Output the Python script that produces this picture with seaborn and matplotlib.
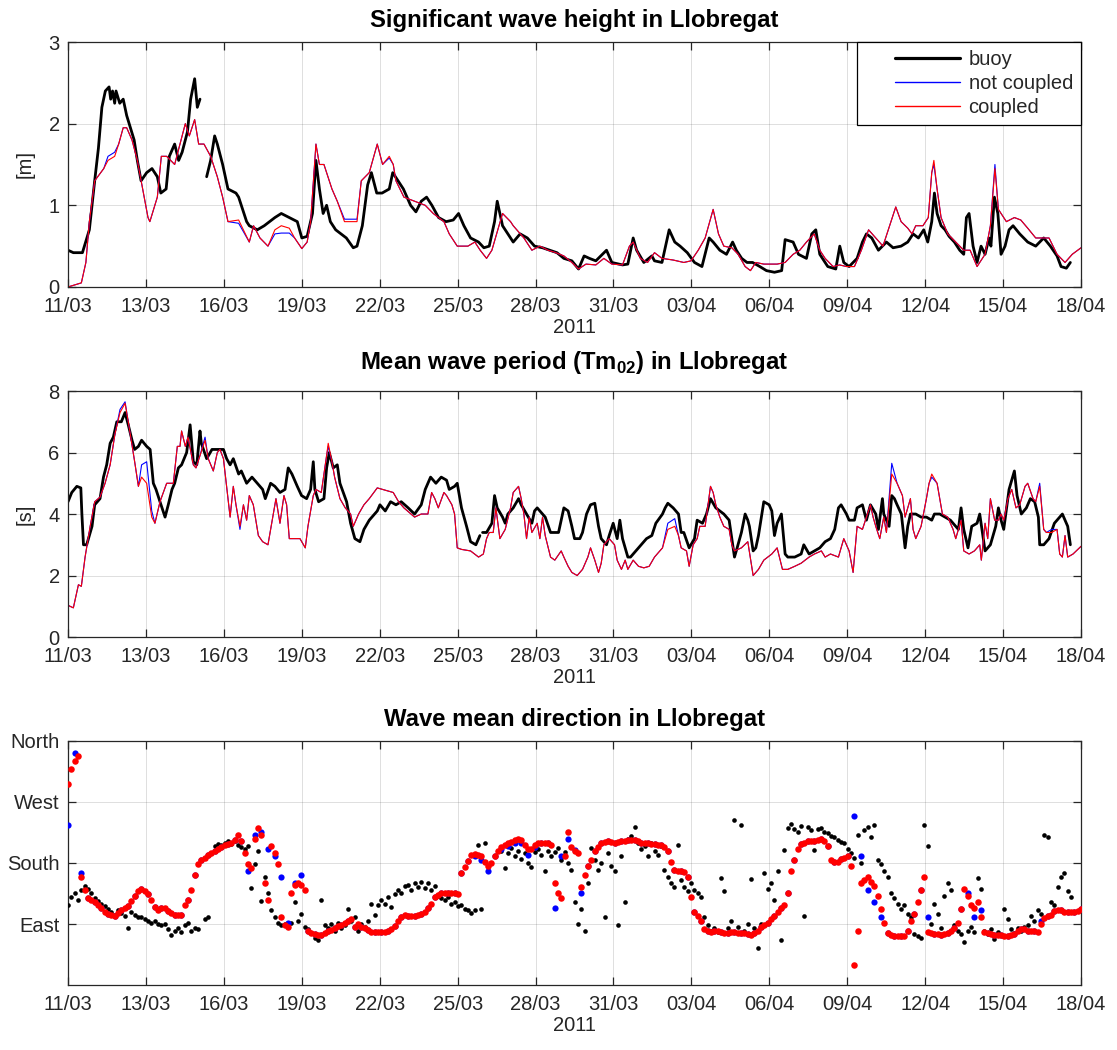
import numpy as np
import pandas as pd
import matplotlib
matplotlib.use("Agg")
import matplotlib.pyplot as plt
import seaborn as sns
from matplotlib.lines import Line2D
from matplotlib.legend_handler import HandlerLine2D

nan = np.nan

# ---------------- data (time in days since 11/03/2011 00:00) ----------------
date_labels = ['11/03', '13/03', '16/03', '19/03', '22/03', '25/03', '28/03',
               '31/03', '03/04', '06/04', '09/04', '12/04', '15/04', '18/04']
period_days = 38.0

# Panel 1: significant wave height [m]
hs_buoy = [(0,0.45),(0.2,0.42),(0.54,0.42),(0.8,0.7),(1.0,1.3),(1.14,1.7),(1.27,2.2),(1.4,2.4),(1.54,2.45),(1.6,2.3),
           (1.67,2.4),(1.75,2.25),(1.8,2.4),(1.94,2.25),(2.07,2.3),(2.2,2.1),(2.34,1.95),(2.48,1.8),(2.6,1.55),(2.74,1.3),
           (2.95,1.4),(3.15,1.45),(3.35,1.35),(3.48,1.15),(3.68,1.2),(3.8,1.6),(4.0,1.75),(4.15,1.55),(4.28,1.65),(4.48,1.9),
           (4.6,2.3),(4.75,2.55),(4.85,2.2),(4.95,2.3),(5.05,nan),(5.2,1.35),(5.35,1.55),(5.5,1.85),(5.6,1.75),(5.8,1.5),
           (6.0,1.2),(6.3,1.15),(6.4,1.1),(6.7,0.8),(6.8,0.75),(7.1,0.7),(7.36,0.75),(7.76,0.85),(8.0,0.9),(8.3,0.85),
           (8.6,0.8),(8.77,0.6),(8.97,0.62),(9.17,0.9),(9.3,1.55),(9.43,1.2),(9.57,0.9),(9.7,1.0),(9.84,0.8),(10.04,0.7),
           (10.44,0.6),(10.7,0.48),(10.84,0.5),(11.04,0.75),(11.24,1.25),(11.38,1.4),(11.58,1.15),(11.78,1.15),(12.05,1.2),(12.18,1.4),
           (12.38,1.3),(12.58,1.2),(12.85,1.0),(13.05,0.92),(13.25,1.05),(13.45,1.1),(13.65,1.0),(13.9,0.85),(14.18,0.8),(14.45,0.82),
           (14.65,0.9),(14.85,0.75),(15.1,0.6),(15.4,0.55),(15.6,0.48),(15.8,0.5),(16.0,0.8),(16.1,1.05),(16.3,0.75),(16.5,0.65),
           (16.7,0.55),(16.96,0.65),(17.23,0.6),(17.5,0.5),(17.8,0.48),(18.07,0.45),(18.34,0.42),(18.6,0.35),(18.9,0.32),(19.15,0.22),
           (19.36,0.38),(19.56,0.35),(19.8,0.32),(20.2,0.45),(20.4,0.3),(20.8,0.27),(21.0,0.28),(21.2,0.6),(21.33,0.45),(21.6,0.3),
           (21.9,0.38),(22.0,0.32),(22.28,0.3),(22.55,0.7),(22.76,0.55),(22.96,0.5),(23.23,0.42),(23.5,0.3),(23.78,0.25),(24.05,0.6),
           (24.2,0.55),(24.45,0.45),(24.7,0.4),(24.93,0.55),(25.07,0.45),(25.27,0.35),(25.47,0.3),(25.68,0.3),(25.95,0.25),(26.2,0.2),
           (26.5,0.18),(26.77,0.2),(26.9,0.58),(27.2,0.55),(27.4,0.4),(27.7,0.35),(27.9,0.65),(28.05,0.7),(28.2,0.4),(28.5,0.25),
           (28.8,0.22),(28.95,0.5),(29.1,0.3),(29.3,0.25),(29.6,0.35),(29.8,0.55),(29.95,0.65),(30.15,0.6),(30.4,0.45),(30.7,0.55),
           (30.95,0.48),(31.25,0.5),(31.5,0.55),(31.7,0.65),(31.9,0.6),(32.1,0.7),(32.25,0.55),(32.4,0.8),(32.5,1.15),(32.6,0.9),
           (32.75,0.75),(32.9,0.7),(33.05,0.62),(33.25,0.55),(33.45,0.45),(33.6,0.4),(33.7,0.85),(33.8,0.9),(33.95,0.5),(34.1,0.3),
           (34.25,0.5),(34.4,0.4),(34.55,0.6),(34.62,0.5),(34.75,1.1),(34.88,0.9),(35.0,0.4),(35.15,0.5),(35.3,0.7),(35.45,0.75),
           (35.7,0.65),(36.0,0.55),(36.3,0.5),(36.6,0.6),(36.85,0.5),(37.1,0.38),(37.25,0.25),(37.45,0.23),(37.6,0.3)]

hs_model_t = [0,0.5,0.67,0.8,1.0,1.34,1.5,1.75,1.9,2.07,
              2.2,2.4,2.6,2.8,3.0,3.07,3.35,3.5,3.7,4.0,
              4.2,4.4,4.55,4.75,4.9,5.1,5.35,5.6,5.8,6.0,
              6.4,6.8,6.96,7.2,7.5,7.76,8.0,8.3,8.5,8.77,
              8.97,9.1,9.3,9.43,9.6,9.9,10.1,10.37,10.84,11.0,
              11.3,11.6,11.8,12.05,12.2,12.3,12.6,13.0,13.4,13.7,
              14.1,14.3,14.6,15.0,15.26,15.46,15.7,15.9,16.3,16.6,
              16.7,17.1,17.4,17.7,18.0,18.3,18.6,18.9,19.15,19.43,
              19.8,20.1,20.4,20.8,21.06,21.2,21.47,21.74,22.0,22.28,
              22.7,23.1,23.37,23.64,23.9,24.2,24.4,24.6,24.9,25.14,
              25.4,25.6,25.8,26.1,26.6,26.9,27.2,27.45,27.7,27.99,
              28.2,28.4,28.7,28.94,29.2,29.5,29.76,30.03,30.3,30.57,
              30.85,31.05,31.25,31.5,31.66,31.8,32.07,32.27,32.4,32.48,
              32.6,32.75,33.0,33.3,33.6,33.84,34.1,34.4,34.6,34.77,
              34.9,35.2,35.5,35.74,36.0,36.3,36.6,36.8,37.1,37.4,
              37.67,38.0]
hs_coupled = [0.0,0.05,0.3,0.8,1.3,1.45,1.55,1.6,1.75,1.95,
              1.95,1.8,1.55,1.2,0.85,0.8,1.1,1.6,1.6,1.5,
              1.75,2.0,1.85,2.05,1.75,1.75,1.6,1.35,1.1,0.8,
              0.82,0.55,0.75,0.6,0.5,0.7,0.75,0.72,0.6,0.47,
              0.55,0.8,1.75,1.5,1.5,1.2,1.05,0.8,0.8,1.3,
              1.4,1.75,1.5,1.6,1.5,1.3,1.1,1.05,1.0,0.9,
              0.8,0.65,0.5,0.5,0.55,0.45,0.35,0.45,0.9,0.8,
              0.75,0.6,0.45,0.5,0.45,0.42,0.38,0.3,0.22,0.28,
              0.27,0.35,0.28,0.27,0.5,0.55,0.35,0.3,0.42,0.35,
              0.33,0.3,0.32,0.45,0.6,0.95,0.65,0.5,0.48,0.4,
              0.25,0.2,0.3,0.28,0.28,0.3,0.4,0.45,0.55,0.65,
              0.45,0.35,0.25,0.27,0.25,0.25,0.45,0.7,0.6,0.5,
              0.78,0.98,0.8,0.72,0.65,0.75,0.75,0.85,1.4,1.55,
              1.2,0.85,0.65,0.55,0.45,0.45,0.25,0.4,0.75,1.45,
              0.95,0.8,0.85,0.82,0.72,0.6,0.6,0.6,0.4,0.3,
              0.4,0.48]
hs_notcoupled = [0.0,0.05,0.3,0.8,1.3,1.45,1.6,1.65,1.75,1.95,
                 1.95,1.8,1.55,1.2,0.85,0.8,1.1,1.6,1.6,1.5,
                 1.75,2.0,1.85,2.05,1.75,1.75,1.6,1.35,1.1,0.8,
                 0.78,0.55,0.75,0.6,0.5,0.65,0.66,0.66,0.6,0.47,
                 0.55,0.8,1.75,1.5,1.5,1.2,1.05,0.83,0.83,1.3,
                 1.4,1.75,1.5,1.58,1.5,1.3,1.1,1.05,1.0,0.9,
                 0.8,0.65,0.5,0.5,0.55,0.45,0.35,0.45,0.9,0.8,
                 0.75,0.6,0.45,0.5,0.45,0.42,0.38,0.3,0.22,0.28,
                 0.27,0.35,0.28,0.27,0.5,0.55,0.35,0.3,0.42,0.35,
                 0.33,0.3,0.32,0.45,0.6,0.95,0.65,0.5,0.48,0.4,
                 0.25,0.2,0.3,0.28,0.28,0.3,0.4,0.45,0.55,0.65,
                 0.45,0.35,0.25,0.27,0.25,0.25,0.45,0.7,0.6,0.5,
                 0.78,0.98,0.8,0.72,0.65,0.75,0.75,0.85,1.4,1.5,
                 1.2,0.85,0.65,0.55,0.45,0.45,0.25,0.4,0.75,1.5,
                 0.95,0.8,0.85,0.82,0.72,0.6,0.6,0.6,0.4,0.3,
                 0.4,0.48]

# Panel 2: mean wave period Tm02 [s]
tm_buoy = [(0,4.4),(0.14,4.7),(0.33,4.9),(0.48,4.85),(0.52,4.0),(0.58,3.0),(0.7,3.0),(0.9,3.6),(1.0,4.3),(1.2,4.5),
           (1.33,5.2),(1.45,5.6),(1.58,6.3),(1.7,6.5),(1.83,7.0),(2.0,7.0),(2.14,7.3),(2.26,6.9),(2.4,6.4),(2.5,6.1),
           (2.64,6.2),(2.76,6.4),(2.95,6.2),(3.08,6.1),(3.2,5.0),(3.3,4.8),(3.45,4.4),(3.64,3.9),(3.76,4.3),(3.9,4.8),
           (4.0,5.0),(4.14,5.5),(4.26,5.6),(4.45,6.0),(4.58,6.9),(4.7,5.7),(4.83,5.6),(4.95,6.7),(5.0,6.3),(5.2,5.8),
           (5.4,6.1),(5.6,6.1),(5.83,6.1),(5.95,5.8),(6.08,5.6),(6.2,5.8),(6.4,5.3),(6.5,5.4),(6.7,5.0),(6.9,5.2),
           (7.1,5.0),(7.3,4.8),(7.4,4.5),(7.6,5.0),(7.76,4.9),(7.95,4.7),(8.14,4.8),(8.26,5.5),(8.4,5.3),(8.6,4.9),
           (8.76,4.6),(8.95,4.5),(9.1,4.8),(9.2,5.7),(9.26,4.8),(9.4,4.4),(9.6,4.5),(9.7,5.5),(9.8,6.0),(9.95,5.5),
           (10.1,5.6),(10.2,5.0),(10.45,4.4),(10.6,3.7),(10.76,3.2),(10.95,3.1),(11.1,3.5),(11.3,3.8),(11.6,4.1),(11.7,4.3),
           (11.9,4.1),(12.1,4.4),(12.3,4.3),(12.5,4.4),(12.76,4.2),(13.0,4.0),(13.25,4.3),(13.4,4.8),(13.6,5.2),(13.8,5.0),
           (14.0,5.2),(14.2,5.1),(14.3,4.8),(14.5,4.9),(14.6,5.0),(14.76,4.2),(14.95,3.6),(15.1,3.1),(15.3,3.0),(15.45,3.3),
           (15.5,nan),(15.55,3.4),(15.7,3.4),(15.9,3.7),(16.0,4.6),(16.1,4.2),(16.3,3.9),(16.4,3.7),(16.5,4.0),(16.7,4.2),
           (16.9,4.5),(17.0,4.3),(17.2,4.0),(17.4,3.7),(17.5,4.1),(17.6,4.2),(17.8,4.0),(17.9,3.9),(18.1,3.4),(18.4,3.4),
           (18.6,4.2),(18.76,4.1),(18.9,3.6),(19.0,3.2),(19.2,3.2),(19.3,3.4),(19.45,4.0),(19.6,4.3),(19.76,4.35),(19.9,3.6),
           (20.0,3.2),(20.2,3.0),(20.3,3.3),(20.45,3.7),(20.6,3.2),(20.7,3.8),(20.8,3.2),(21.0,2.6),(21.1,2.6),(21.3,2.8),
           (21.5,3.0),(21.7,3.2),(21.9,3.3),(22.05,3.7),(22.3,4.0),(22.4,4.2),(22.5,4.35),(22.7,4.2),(22.9,4.0),(23.0,3.4),
           (23.1,3.4),(23.3,2.9),(23.5,3.2),(23.6,3.8),(23.8,3.7),(23.95,4.0),(24.1,4.5),(24.3,4.2),(24.45,4.1),(24.6,4.0),
           (24.8,3.8),(25.0,2.6),(25.1,2.9),(25.26,3.4),(25.4,4.0),(25.5,3.8),(25.56,3.6),(25.7,2.8),(25.8,2.9),(25.9,3.3),
           (26.1,4.4),(26.3,4.3),(26.4,4.1),(26.5,3.3),(26.6,3.7),(26.76,4.0),(26.9,2.7),(27.0,2.6),(27.26,2.6),(27.5,2.7),
           (27.6,3.0),(27.8,2.7),(28.0,2.8),(28.2,2.9),(28.4,3.1),(28.6,3.2),(28.76,3.5),(28.9,4.2),(29.0,4.3),(29.2,4.0),
           (29.3,3.8),(29.5,3.8),(29.6,4.2),(29.8,4.3),(29.95,3.8),(30.1,4.3),(30.3,4.0),(30.4,3.5),(30.55,4.5),(30.6,4.0),
           (30.8,3.6),(30.9,4.6),(31.0,4.5),(31.1,4.3),(31.26,4.0),(31.4,2.9),(31.5,3.6),(31.6,4.0),(31.8,4.0),(32.0,3.9),
           (32.2,3.9),(32.4,3.8),(32.5,4.0),(32.7,4.0),(32.9,3.9),(33.1,3.8),(33.3,3.6),(33.4,3.5),(33.5,4.2),(33.6,3.5),
           (33.76,2.9),(33.9,3.6),(34.1,3.7),(34.2,4.0),(34.4,2.8),(34.6,3.0),(34.8,3.6),(34.9,4.2),(35.0,3.8),(35.1,3.5),
           (35.3,4.8),(35.5,5.4),(35.6,4.6),(35.76,4.0),(35.95,4.2),(36.1,4.5),(36.26,4.4),(36.4,3.9),(36.45,3.0),(36.6,3.0),
           (36.8,3.2),(37.0,3.7),(37.2,3.9),(37.3,4.0),(37.5,3.6),(37.6,3.0)]

tm_model_t = [0,0.2,0.39,0.5,0.64,0.83,1.0,1.2,1.39,1.58,
              1.76,1.95,2.14,2.26,2.39,2.5,2.64,2.76,2.95,3.14,
              3.26,3.45,3.7,3.95,4.1,4.2,4.26,4.4,4.5,4.7,
              4.8,4.95,5.14,5.26,5.45,5.6,5.7,5.83,5.95,6.08,
              6.2,6.3,6.45,6.58,6.7,6.8,6.95,7.14,7.3,7.5,
              7.7,7.8,7.95,8.1,8.2,8.3,8.5,8.7,8.9,9.0,
              9.2,9.3,9.5,9.7,9.76,9.9,10.0,10.2,10.4,10.6,
              10.7,10.9,11.1,11.3,11.6,11.8,12.2,12.4,12.6,13.0,
              13.25,13.5,13.64,13.76,13.89,14.1,14.2,14.4,14.5,14.6,
              14.76,15.1,15.4,15.58,15.7,15.8,15.95,16.05,16.2,16.4,
              16.6,16.7,16.9,17.0,17.1,17.2,17.3,17.4,17.6,17.7,
              17.8,17.9,18.1,18.26,18.5,18.6,18.76,18.9,19.1,19.3,
              19.5,19.6,19.76,19.9,20.0,20.1,20.3,20.4,20.5,20.6,
              20.76,20.9,21.0,21.2,21.4,21.6,21.8,22.0,22.3,22.5,
              22.76,22.9,23.0,23.2,23.3,23.45,23.6,23.7,23.9,24.1,
              24.2,24.3,24.45,24.6,24.8,24.9,25.0,25.26,25.5,25.7,
              25.9,26.1,26.4,26.6,26.8,27.0,27.26,27.5,27.8,28.0,
              28.26,28.4,28.6,28.9,29.1,29.3,29.45,29.6,29.8,29.95,
              30.1,30.2,30.3,30.45,30.6,30.7,30.9,31.1,31.2,31.3,
              31.4,31.6,31.7,31.8,32.0,32.2,32.3,32.4,32.6,32.8,
              33.0,33.2,33.3,33.5,33.6,33.8,34.0,34.2,34.26,34.4,
              34.5,34.6,34.76,34.9,35.0,35.1,35.26,35.4,35.56,35.7,
              35.9,36.0,36.2,36.3,36.45,36.6,36.7,36.9,37.1,37.2,
              37.3,37.4,37.5,37.7,38.0]
tm_coupled = [1.03,0.95,1.7,1.65,2.6,3.6,4.4,4.55,5.0,5.6,
              6.6,7.3,7.6,7.0,6.3,5.7,4.9,5.2,5.0,3.9,
              3.7,4.4,5.0,5.0,6.2,6.2,6.7,6.2,6.5,5.6,
              5.5,5.9,6.4,5.8,5.4,6.0,6.1,5.8,4.9,3.9,
              4.9,4.3,3.6,4.3,3.8,4.6,4.3,3.3,3.1,3.0,
              4.0,4.5,3.7,4.6,4.3,3.2,3.2,3.2,2.9,3.6,
              4.6,4.8,4.7,5.9,6.3,5.7,5.2,4.5,4.2,4.0,
              3.6,4.0,4.3,4.5,4.85,4.8,4.7,4.4,4.2,3.9,
              4.0,4.0,4.7,4.5,4.2,4.7,4.6,4.3,4.0,2.9,
              2.85,2.8,2.6,2.7,3.2,3.4,3.4,4.2,3.2,3.5,
              4.2,4.7,4.9,4.5,4.0,3.2,3.9,3.4,3.7,3.2,
              3.9,3.3,2.6,2.5,2.8,2.6,2.3,2.1,2.0,2.2,
              2.6,2.9,2.5,2.1,2.4,3.0,3.2,3.1,3.0,2.5,
              2.2,2.5,2.2,2.5,2.3,2.25,2.3,2.6,2.9,3.5,
              3.6,3.3,2.9,2.8,2.3,3.0,3.2,3.6,3.6,4.9,
              4.7,4.3,3.9,3.6,3.5,3.0,2.8,2.9,3.1,2.0,
              2.2,2.5,2.7,2.9,2.2,2.2,2.3,2.4,2.6,2.7,
              2.8,2.6,2.7,2.6,3.2,2.8,2.1,3.6,3.5,3.9,
              4.3,3.9,3.6,3.2,3.9,3.4,5.3,5.0,4.8,4.6,
              3.9,4.5,3.5,3.2,3.6,4.5,5.0,5.3,5.0,4.0,
              3.9,3.5,3.2,3.8,2.8,2.7,2.8,3.0,2.5,3.7,
              3.2,4.5,3.8,3.8,4.0,3.8,4.5,4.8,4.2,4.3,
              4.9,5.0,4.5,4.4,4.9,3.5,3.4,3.4,3.5,2.7,
              2.6,3.3,2.6,2.7,2.95]
tm_notcoupled = [1.03,0.95,1.7,1.65,2.6,3.6,4.4,4.55,5.0,5.6,
                 6.6,7.4,7.65,7.0,6.3,5.7,4.9,5.6,5.7,4.1,
                 3.7,4.4,5.0,5.0,6.2,6.2,6.7,6.2,6.5,5.6,
                 5.5,5.9,6.5,5.8,5.4,6.0,6.1,5.8,4.9,3.9,
                 4.9,4.3,3.5,4.3,3.8,4.6,4.3,3.3,3.1,3.0,
                 4.0,4.5,3.7,4.6,4.3,3.2,3.2,3.2,2.9,3.6,
                 4.6,4.8,4.7,5.9,6.2,5.7,5.2,4.5,4.2,4.0,
                 3.6,4.0,4.3,4.5,4.85,4.8,4.7,4.4,4.2,3.9,
                 4.0,4.0,4.7,4.5,4.2,4.7,4.6,4.3,4.0,2.9,
                 2.85,2.8,2.6,2.7,3.2,3.4,3.4,4.2,3.2,3.5,
                 4.2,4.7,4.9,4.5,4.0,3.2,3.9,3.4,3.7,3.2,
                 3.9,3.3,2.6,2.5,2.8,2.6,2.3,2.1,2.0,2.2,
                 2.6,2.9,2.5,2.1,2.4,3.0,3.2,3.1,3.0,2.5,
                 2.2,2.5,2.2,2.5,2.3,2.25,2.3,2.6,2.9,3.7,
                 3.85,3.3,2.9,2.8,2.3,3.0,3.2,3.6,3.6,4.9,
                 4.7,4.3,3.9,3.6,3.5,3.0,2.8,2.9,3.1,2.0,
                 2.2,2.5,2.7,2.9,2.2,2.2,2.3,2.4,2.6,2.7,
                 2.8,2.6,2.7,2.6,3.2,2.8,2.1,3.6,3.5,3.9,
                 4.3,3.9,3.6,3.2,3.9,3.4,5.65,5.0,4.8,4.6,
                 3.9,4.5,3.5,3.2,3.6,4.5,5.0,5.2,5.0,4.0,
                 3.9,3.5,3.2,3.8,2.8,2.7,2.8,3.0,2.5,3.7,
                 3.2,4.5,3.8,3.8,4.0,3.8,4.5,4.8,4.2,4.3,
                 4.9,5.0,4.5,4.4,5.0,3.5,3.4,3.5,3.5,2.7,
                 2.6,3.3,2.6,2.7,2.95]

# Panel 3: wave mean direction [deg, nautical]; coupled & buoy every 3 h, not coupled every 6 h
dir_step_fine = 0.125
dir_step_coarse = 0.25
dir_coupled = [297,318,330,338,160,140,128,125,122,118,
               113,108,105,103,102,106,111,113,116,124,
               131,139,141,139,134,125,115,110,113,113,
               109,106,104,103,104,118,126,140,163,178,
               185,188,192,195,198,201,203,206,208,210,
               214,221,212,195,178,172,215,232,222,150,
               125,205,195,178,100,88,86,135,148,150,
               147,140,80,76,75,74,74,76,79,81,
               84,87,89,91,94,97,86,90,86,84,
               81,78,78,78,78,78,79,82,87,95,
               101,103,
               102,102,102,103,105,108,113,120,130,133,
               135,135,136,136,135,134,165,174,183,192,
               194,192,190,182,175,180,190,197,203,206,
               209,211,214,216,214,207,201,200,207,209,
               210,209,209,206,151,135,128,190,226,204,
               198,195,145,162,175,185,197,204,209,211,
               212,211,210,211,212,213,214,214,214,212,
               210,209,209,208,208,207,207,203,197,182,
               169,168,168,166,160,130,108,102,95,82,
               79,78,80,79,78,77,77,78,78,77,
               77,76,75,74,76,80,85,88,92,97,
               102,107,113,118,135,168,184,200,208,210,
               212,212,212,214,216,213,205,185,182,182,
               186,188,190,175,29,80,150,155,160,152,
               146,131,112,92,76,74,73,73,73,73,
               80,95,105,122,140,160,78,76,75,75,
               74,75,77,80,84,92,112,141,131,118,
               114,122,100,78,76,75,74,74,74,73,
               73,74,75,80,83,82,80,79,79,78,
               90,99,102,104,109,111,110,107,107,107,
               108,109,112]
dir_notcoupled = [236,343,165,128,122,113,105,102,111,116,
                  131,141,134,115,113,109,104,104,126,163,
                  185,192,198,203,208,214,212,168,222,226,
                  200,190,160,92,150,163,80,75,74,79,
                  84,89,94,86,86,81,78,78,79,87,
                  101,102,102,105,113,130,135,136,135,165,
                  183,190,185,168,190,200,205,210,210,192,
                  203,210,209,114,190,215,199,136,175,197,
                  209,212,210,212,214,214,210,209,208,207,
                  197,169,168,160,108,95,79,80,78,77,
                  78,77,75,76,85,92,102,113,135,184,
                  208,212,212,216,205,182,186,190,250,190,
                  140,122,100,76,73,73,80,105,140,100,
                  75,74,77,84,112,136,100,110,76,74,
                  74,73,75,83,80,79,95,102,109,110,
                  107,108,112]
dir_buoy = [118,130,135,125,140,146,142,136,128,124,
            120,116,112,108,104,110,106,102,84,108,
            104,100,101,97,95,92,94,90,88,90,
            82,74,80,84,78,88,92,80,84,82,
            nan,97,100,nan,205,208,206,210,212,208,
            212,206,203,200,205,143,178,198,124,160,
            135,110,100,92,88,90,87,92,122,95,
            105,85,82,76,70,66,126,88,84,90,
            80,92,84,88,112,95,100,80,90,86,
            94,120,104,118,126,120,130,115,134,140,
            136,146,
            148,140,150,145,152,143,150,140,146,132,
            128,125,130,120,122,116,118,112,110,106,
            110,207,112,209,nan,nan,nan,nan,198,173,
            195,202,190,198,186,195,180,174,196,200,
            192,168,198,190,196,202,185,196,180,170,
            122,90,112,80,151,202,185,170,180,100,
            195,175,168,88,190,122,215,220,233,210,
            200,205,190,210,198,192,205,170,160,150,
            145,207,155,145,138,150,140,135,130,100,
            88,80,84,78,158,139,84,95,243,85,
            236,80,90,156,84,55,90,165,141,151,
            126,168,66,199,232,238,230,225,235,102,
            233,228,199,230,232,226,224,220,218,214,
            211,209,200,195,188,221,180,228,233,219,
            236,185,178,168,160,136,128,120,112,118,
            105,100,75,72,70,236,205,90,120,105,
            84,131,151,140,88,80,75,63,80,85,
            78,158,141,80,75,82,68,78,74,112,
            97,82,76,84,80,86,88,102,95,110,
            105,221,218,122,118,145,160,165,138,130,
            nan,nan,nan]
dir_ticks = [90, 180, 270, 360]
dir_labels = ['East', 'South', 'West', 'North']

# ---------------- styling ----------------
sns.set_style("ticks")
plt.rcParams['font.family'] = ['Liberation Sans', 'DejaVu Sans']
plt.rcParams['mathtext.fontset'] = 'custom'
plt.rcParams['mathtext.rm'] = 'Liberation Sans'
plt.rcParams['mathtext.bf'] = 'Liberation Sans:bold'

AXC = '#262626'
TICK_FS = 14.5
TITLE_FS = 17.2

fig = plt.figure(figsize=(11.17, 10.5), dpi=100)
left, width = 0.0609, 0.9069
ax1 = fig.add_axes([left, 0.7267, width, 0.2333])
ax2 = fig.add_axes([left, 0.3933, width, 0.2343])
ax3 = fig.add_axes([left, 0.0619, width, 0.2324])


def draw_line(ax, t, v, color, lw):
    df = pd.DataFrame({'t': np.asarray(t, float), 'v': np.asarray(v, float)})
    df['seg'] = df['v'].isna().cumsum()
    df = df.dropna()
    sns.lineplot(data=df, x='t', y='v', units='seg', estimator=None, sort=False,
                 color=color, lw=lw, ax=ax, legend=False)


def draw_dots(ax, v, step, color, s):
    v = np.asarray(v, float)
    df = pd.DataFrame({'t': np.arange(len(v)) * step, 'v': v}).dropna()
    sns.scatterplot(data=df, x='t', y='v', color=color, s=s, linewidth=0,
                    ax=ax, legend=False, zorder=3)


BUOY_LW = 2.0
MOD_LW = 0.8

# panel 1
t, v = zip(*hs_buoy)
draw_line(ax1, t, v, 'black', BUOY_LW)
draw_line(ax1, hs_model_t, hs_notcoupled, (0, 0, 1), MOD_LW)
draw_line(ax1, hs_model_t, hs_coupled, (1, 0, 0), MOD_LW)

# panel 2
t, v = zip(*tm_buoy)
draw_line(ax2, t, v, 'black', BUOY_LW)
draw_line(ax2, tm_model_t, tm_notcoupled, (0, 0, 1), MOD_LW)
draw_line(ax2, tm_model_t, tm_coupled, (1, 0, 0), MOD_LW)

# panel 3
draw_dots(ax3, dir_buoy, dir_step_fine, 'black', 11)
draw_dots(ax3, dir_notcoupled, dir_step_coarse, (0, 0, 1), 20)
draw_dots(ax3, dir_coupled, dir_step_fine, (1, 0, 0), 22)

titles = ['Significant wave height in Llobregat',
          r'Mean wave period (Tm$_{\mathbf{02}}$) in Llobregat',
          'Wave mean direction in Llobregat']
title_pads = [11, 16, 10.5]

for ax, ttl, tp in zip([ax1, ax2, ax3], titles, title_pads):
    ax.set_xlim(0, period_days)
    ax.set_xticks(np.linspace(0, period_days, len(date_labels)))
    ax.set_xticklabels(date_labels)
    ax.tick_params(axis='both', direction='in', top=True, right=True, length=6,
                   width=0.9, color=AXC, labelcolor=AXC, labelsize=TICK_FS)
    ax.tick_params(axis='x', pad=7.5)
    ax.tick_params(axis='y', pad=6)
    ax.grid(True, color=AXC, alpha=0.15, lw=0.7)
    ax.set_axisbelow(True)
    for s in ax.spines.values():
        s.set_color(AXC)
        s.set_linewidth(0.9)
    ax.set_xlabel('2011', fontsize=TICK_FS, color=AXC, labelpad=1)
    ax.set_ylabel('')
    ax.set_title(ttl, fontsize=TITLE_FS, fontweight='bold', color='black', pad=tp)

ax1.set_ylim(0, 3)
ax1.set_yticks([0, 1, 2, 3])
ax1.set_ylabel('[m]', fontsize=TICK_FS, color=AXC, labelpad=10)
ax2.set_ylim(0, 8)
ax2.set_yticks([0, 2, 4, 6, 8])
ax2.set_ylabel('[s]', fontsize=TICK_FS, color=AXC, labelpad=10)
ax3.set_ylim(0, 360)
ax3.set_yticks(dir_ticks)
ax3.set_yticklabels(dir_labels)

handles = [Line2D([], [], color='black', lw=2.3),
           Line2D([], [], color=(0, 0, 1), lw=1.0),
           Line2D([], [], color=(1, 0, 0), lw=1.0)]
leg = ax1.legend(handles, ['buoy', 'not coupled', 'coupled'], loc='upper right',
                 bbox_to_anchor=(1, 1), borderaxespad=0, fontsize=14.5, frameon=True,
                 fancybox=False, edgecolor='black', framealpha=1, handlelength=4.7,
                 handletextpad=0.45, labelspacing=0.25, borderpad=0.4,
                 handler_map={Line2D: HandlerLine2D(xpad=1.5)})
leg.get_frame().set_linewidth(0.9)
for txt in leg.get_texts():
    txt.set_color(AXC)

fig.savefig('out.png', dpi=100)
